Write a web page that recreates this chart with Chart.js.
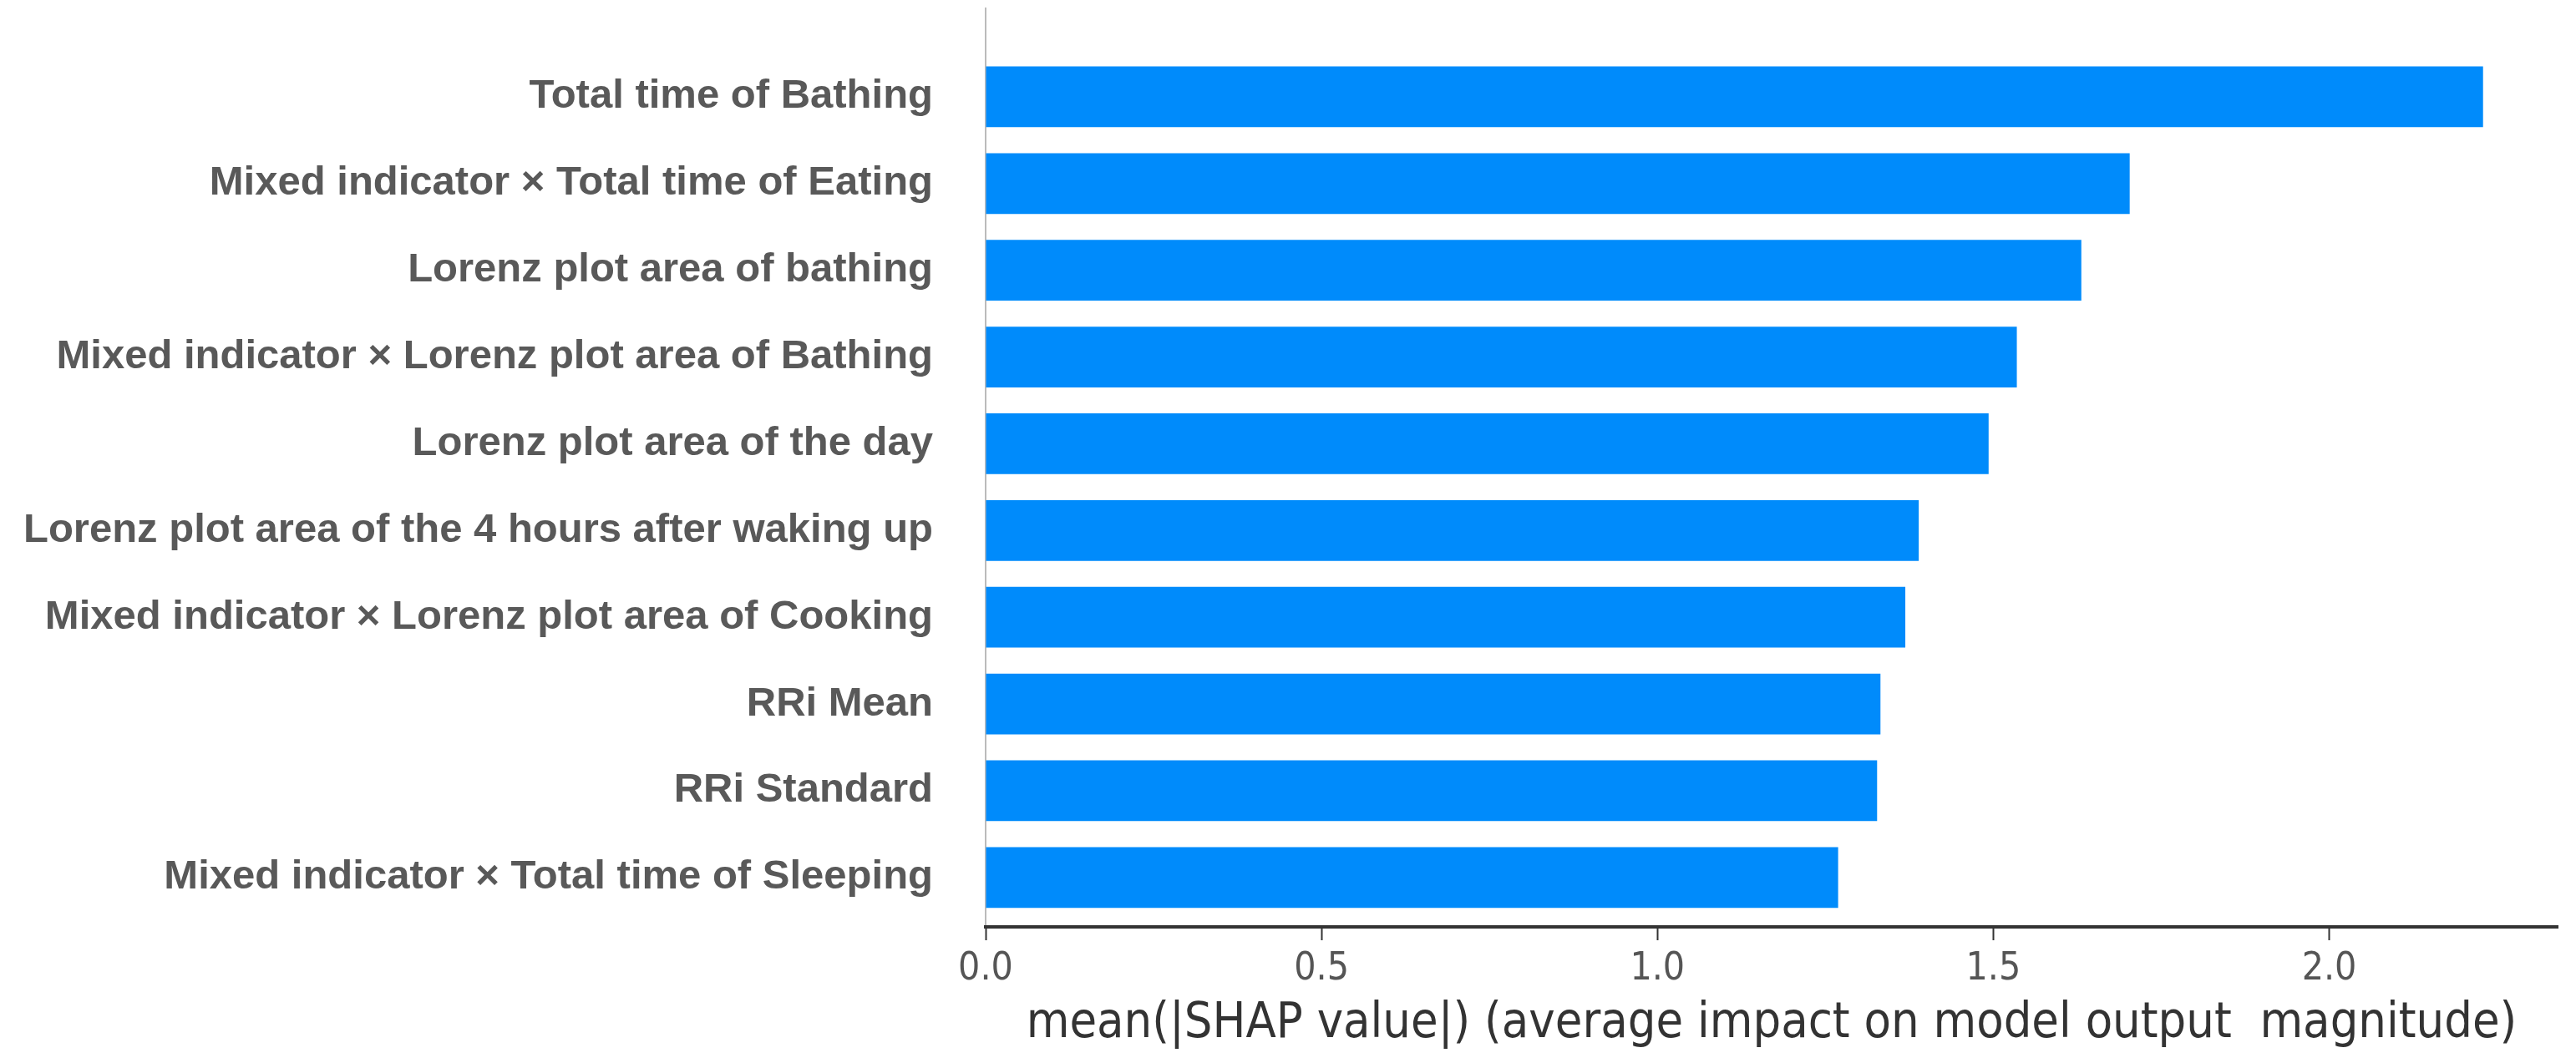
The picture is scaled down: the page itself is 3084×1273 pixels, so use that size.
<!DOCTYPE html>
<html>
<head>
<meta charset="utf-8">
<script src="https://cdn.jsdelivr.net/npm/chart.js@4.4.1/dist/chart.umd.min.js"></script>
<style>
  html, body { margin: 0; padding: 0; background: #ffffff; }
  #wrap { width: 3084px; height: 1273px; position: relative; }
</style>
</head>
<body>
<div id="wrap"><canvas id="chartShap"></canvas></div>
<script>
// Feature names, top to bottom
var featureNames = [
    'Total time of Bathing',
    'Mixed indicator \u00d7 Total time of Eating',
    'Lorenz plot area of bathing',
    'Mixed indicator \u00d7 Lorenz plot area of Bathing',
    'Lorenz plot area of the day',
    'Lorenz plot area of the 4 hours after waking up',
    'Mixed indicator \u00d7 Lorenz plot area of Cooking',
    'RRi Mean',
    'RRi Standard',
    'Mixed indicator \u00d7 Total time of Sleeping'
];

// mean(|SHAP value|) per feature
var shapValues = [2.229, 1.703, 1.631, 1.535, 1.493, 1.389, 1.369, 1.332, 1.327, 1.269];

// x axis ticks
var xTicks = [0.0, 0.5, 1.0, 1.5, 2.0];

var points = shapValues.map(function(v, i) {
    return { x: v, y: i };
});

new Chart(document.getElementById('chartShap').getContext('2d'), {
    type: 'bar',
    data: {
        datasets: [{
            data: points,
            backgroundColor: '#008bfb',
            borderWidth: 0,
            categoryPercentage: 1.0,
            barPercentage: 0.7
        }]
    },
    options: {
        indexAxis: 'y',
        responsive: true,
        maintainAspectRatio: false,
        animation: false,
        layout: {
            padding: { top: 10, right: 22, bottom: 0, left: 0 }
        },
        plugins: {
            legend: { display: false },
            tooltip: { enabled: false }
        },
        scales: {
            y: {
                type: 'linear',
                reverse: true,
                offset: false,
                min: -1.02,
                max: 9.57,
                afterBuildTicks: function(scale) {
                    scale.ticks = featureNames.map(function(_, i) { return { value: i }; });
                },
                afterFit: function(scale) {
                    scale.width = 1180;
                    scale.paddingTop = 0;
                    scale.paddingBottom = 0;
                },
                grid: { display: false, drawTicks: false },
                border: { display: true, color: '#bbbbbb', width: 2 },
                ticks: {
                    padding: 63,
                    color: '#595959',
                    font: { family: "'Liberation Sans', Arial, sans-serif", size: 49, weight: 'bold' },
                    callback: function(value) {
                        return featureNames[value];
                    }
                }
            },
            x: {
                type: 'linear',
                min: 0,
                max: 2.34,
                afterBuildTicks: function(scale) {
                    scale.ticks = xTicks.map(function(v) { return { value: v }; });
                },
                afterFit: function(scale) {
                    scale.height = 163;
                    scale.paddingLeft = 0;
                    scale.paddingRight = 0;
                },
                grid: {
                    drawOnChartArea: false,
                    drawTicks: true,
                    tickLength: 16,
                    tickWidth: 2,
                    tickColor: '#333333'
                },
                border: { display: true, color: '#333333', width: 4 },
                ticks: {
                    padding: 7,
                    color: '#555555',
                    font: { family: "'DejaVu Sans Condensed', 'DejaVu Sans', sans-serif", size: 46 },
                    callback: function(value) {
                        return Number(value).toFixed(1);
                    }
                },
                title: {
                    display: true,
                    text: 'mean(|SHAP value|) (average impact on model output  magnitude)',
                    color: '#333333',
                    padding: { top: 0, bottom: 11 },
                    font: { family: "'DejaVu Sans Condensed', 'DejaVu Sans', sans-serif", size: 59 }
                }
            }
        }
    }
});
</script>
</body>
</html>
